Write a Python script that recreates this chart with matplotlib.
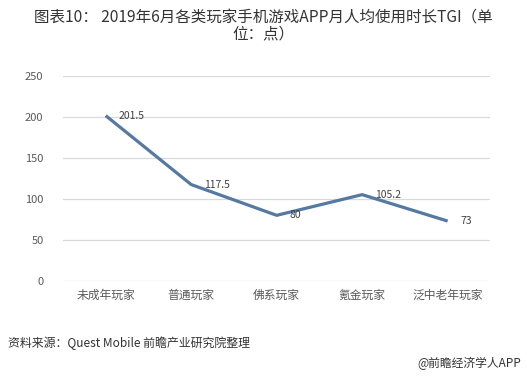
import matplotlib.pyplot as plt

plt.rcParams["font.family"] = ["Noto Sans CJK SC", "DejaVu Sans"]

categories = ["未成年玩家", "普通玩家", "佛系玩家", "氪金玩家", "泛中老年玩家"]
tgi_values = [201.5, 117.5, 80, 105.2, 73]
value_labels = ["201.5", "117.5", "80", "105.2", "73"]
y_ticks = [0, 50, 100, 150, 200, 250]

title_text = "图表10： 2019年6月各类玩家手机游戏APP月人均使用时长TGI（单\n位：点）"
source_text = "资料来源：Quest Mobile 前瞻产业研究院整理"
brand_text = "@前瞻经济学人APP"

fig = plt.figure(figsize=(5.27, 3.87), dpi=100)
ax = fig.add_axes([0.1195, 0.274, 0.811, 0.530])

x = range(len(categories))
ax.plot(x, tgi_values, color="#5579A2", linewidth=2.3,
        solid_joinstyle="round", solid_capstyle="butt", zorder=3)

for xi, val, lab in zip(x, tgi_values, value_labels):
    ax.annotate(lab, (xi, val), xytext=(9, 0), textcoords="offset points",
                ha="left", va="center", fontsize=7.5, color="#404040")

ax.set_xlim(-0.5, len(categories) - 0.5)
ax.set_ylim(0, 250)
ax.set_yticks(y_ticks)
ax.set_xticks(list(x))
ax.set_xticklabels(categories, fontsize=8.5, color="#595959")
ax.tick_params(axis="y", labelsize=8, colors="#595959", length=0, pad=14)
ax.tick_params(axis="x", length=0, pad=6)
ax.grid(axis="y", color="#D9D9D9", linewidth=0.9)
ax.set_axisbelow(True)
for spine in ax.spines.values():
    spine.set_visible(False)

fig.text(0.5, 0.935, title_text, ha="center", va="center", fontsize=11.2,
         color="#333333", linespacing=1.0)
fig.text(0.016, 0.113, source_text, ha="left", va="center", fontsize=8.6,
         color="#333333", style="italic")
fig.text(0.988, 0.06, brand_text, ha="right", va="center", fontsize=8.5,
         color="#333333")

fig.savefig("out.png", dpi=100)
plt.close(fig)
